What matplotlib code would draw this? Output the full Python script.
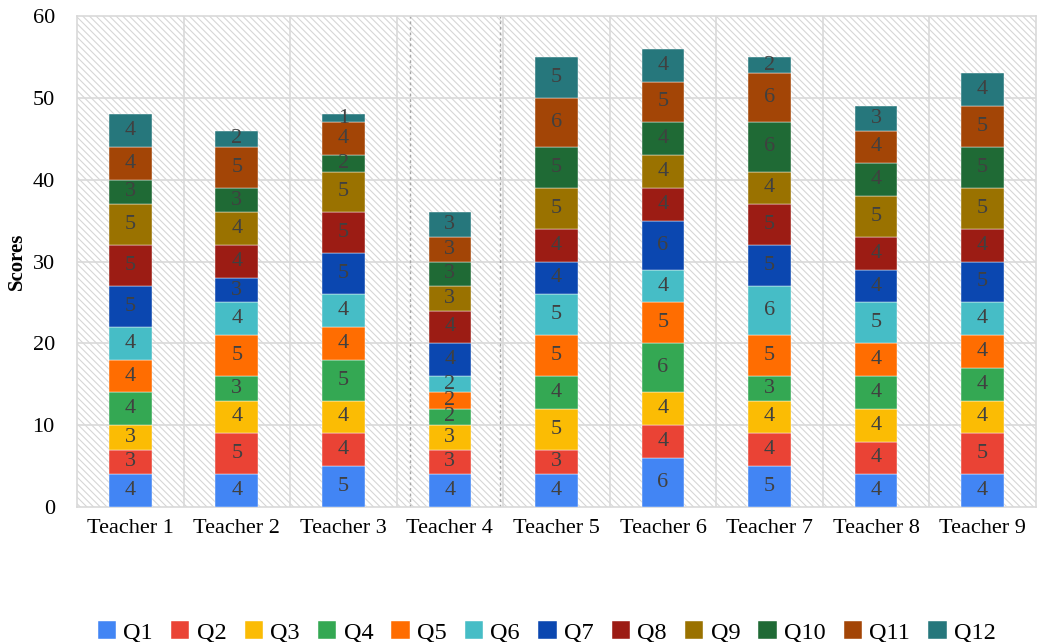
import numpy as np
import matplotlib
matplotlib.use("Agg")
from matplotlib import pyplot as plt
from matplotlib.patches import Rectangle

plt.rcParams['font.family'] = ['Liberation Serif', 'DejaVu Serif']
plt.rcParams['hatch.linewidth'] = 0.8

teachers = ["Teacher 1", "Teacher 2", "Teacher 3", "Teacher 4", "Teacher 5",
            "Teacher 6", "Teacher 7", "Teacher 8", "Teacher 9"]
questions = ["Q1", "Q2", "Q3", "Q4", "Q5", "Q6", "Q7", "Q8", "Q9", "Q10", "Q11", "Q12"]

# rows = questions, columns = teachers
q1 = [4, 4, 5, 4, 4, 6, 5, 4, 4]
q2 = [3, 5, 4, 3, 3, 4, 4, 4, 5]
q3 = [3, 4, 4, 3, 5, 4, 4, 4, 4]
q4 = [4, 3, 5, 2, 4, 6, 3, 4, 4]
q5 = [4, 5, 4, 2, 5, 5, 5, 4, 4]
q6 = [4, 4, 4, 2, 5, 4, 6, 5, 4]
q7 = [5, 3, 5, 4, 4, 6, 5, 4, 5]
q8 = [5, 4, 5, 4, 4, 4, 5, 4, 4]
q9 = [5, 4, 5, 3, 5, 4, 4, 5, 5]
q10 = [3, 3, 2, 3, 5, 4, 6, 4, 5]
q11 = [4, 5, 4, 3, 6, 5, 6, 4, 5]
q12 = [4, 2, 1, 3, 5, 4, 2, 3, 4]
scores = [q1, q2, q3, q4, q5, q6, q7, q8, q9, q10, q11, q12]

colors = ["#4285f4", "#ea4335", "#fbbc04", "#34a853", "#ff6d01", "#46bdc6",
          "#0b47b0", "#9c1c14", "#9a7200", "#1f6a35", "#a34506", "#26777c"]

fig = plt.figure(figsize=(10.39, 6.42), dpi=100)
ax = fig.add_axes([0.0741, 0.2103, 0.9229, 0.7647])

grid_c = "#d9d9d9"
# hatched background of the plot area
ax.add_patch(Rectangle((0, 0), 1, 1, transform=ax.transAxes, facecolor="white",
                       edgecolor="#d6d6d6", hatch="\\\\\\\\\\", linewidth=0, zorder=0))

x = np.arange(len(teachers))
bottom = np.zeros(len(teachers))
for ii in range(len(questions)):
    vals = np.array(scores[ii])
    bars = ax.bar(x, vals, 0.4, bottom=bottom, color=colors[ii], label=questions[ii],
                  zorder=3, edgecolor="white", linewidth=0.3)
    ax.bar_label(bars, labels=[str(v) for v in vals], label_type="center",
                 color="#404040", fontsize=16, zorder=4)
    bottom += vals

ax.set_xlim(-0.5, len(teachers) - 0.5)
ax.set_ylim(0, 60)
ax.set_yticks(np.arange(0, 61, 10))
ax.set_xticks(x)
ax.set_xticklabels(teachers)
ax.tick_params(axis="both", length=0, labelsize=16)
ax.tick_params(axis="y", pad=16)
ax.tick_params(axis="x", pad=9)

for yy in range(10, 60, 10):
    ax.axhline(yy, color=grid_c, linewidth=1.2, zorder=1)
for xx in np.arange(0.5, len(teachers) - 0.5, 1):
    ax.axvline(xx, color=grid_c, linewidth=1.2, zorder=1)
# dotted markers around Teacher 4
for xx in [2.63, 3.47]:
    ax.axvline(xx, color="#a6a6a6", linewidth=1, linestyle=(0, (2, 2)), zorder=1)

for sp in ax.spines.values():
    sp.set_color(grid_c)
    sp.set_linewidth(1.2)

ax.set_ylabel("Scores", fontweight="bold", fontsize=15, labelpad=4)

ax.legend(loc="center", bbox_to_anchor=(0.49, -0.255), ncol=12, frameon=False,
          fontsize=17.5, handlelength=0.75, handleheight=0.75, handletextpad=0.3,
          columnspacing=0.75)

fig.savefig("out.png", dpi=100)
